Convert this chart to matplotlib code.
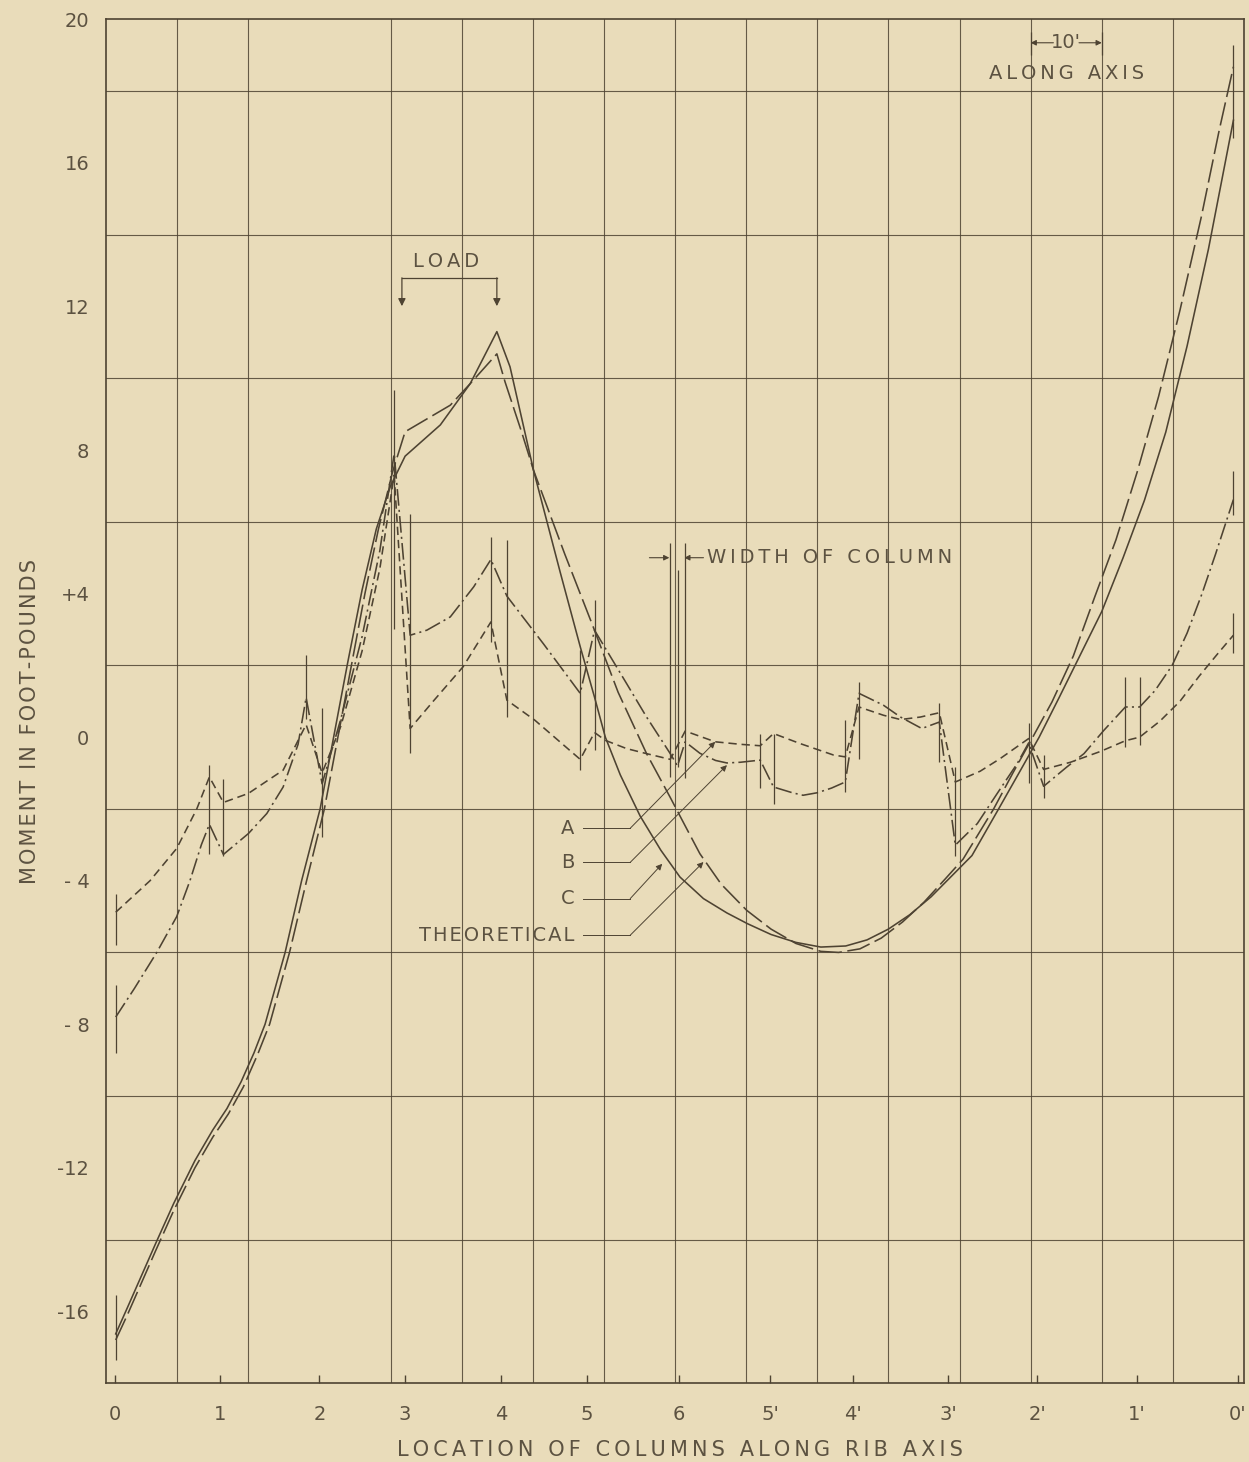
import matplotlib.pyplot as plt

plt.rcParams['lines.scale_dashes'] = False
plt.rcParams['font.family'] = ['DejaVu Sans']

PAPER = '#e9dcba'
INK = '#4e4332'
TXT = '#5c5241'


def spaced(s, gap='\u2009'):
    # lettering on the drawing is wide, so pad the letters out a bit
    return gap.join(s)


# column positions along rib axis (feet) and their labels
col_pos = [1.27, 16.0, 30.0, 42.05, 55.56, 67.65, 80.6, 93.4, 105.06, 118.4, 130.9, 144.9, 159.1]
col_lbl = ['0', '1', '2', '3', '4', '5', '6', "5'", "4'", "3'", "2'", "1'", "0'"]

ytick_val = [20, 16, 12, 8, 4, 0, -4, -8, -12, -16]
ytick_lbl = ['20', '16', '12', '8', '+4', '0', '- 4', '- 8', '-12', '-16']

# curve A (short dash)
a_x = [1.36, 6.19, 9.94, 12.76, 14.53, 16.5, 20.0, 24.9, 28.13, 30.38, 33.0, 36.0, 38.5, 40.51,
       42.76, 46.0, 50.2, 54.11, 56.36, 60.3, 66.67, 68.68, 70.2, 73.2, 76.0, 79.33, 81.43, 85.65,
       89.2, 91.98, 93.85, 97.6, 102.3, 103.94, 105.87, 109.3, 111.7, 114.5, 117.16, 119.41, 122.9,
       125.7, 129.72, 131.83, 135.6, 139.8, 143.32, 145.33, 148.2, 151.0, 153.7, 156.2, 158.51]
a_y = [-4.88, -4.0, -3.1, -2.0, -1.11, -1.82, -1.57, -0.92, 0.35, -1.0, 0.3, 2.4, 4.7, 7.3,
       0.24, 1.0, 1.96, 3.21, 1.03, 0.47, -0.62, 0.13, -0.09, -0.32, -0.46, -0.62, 0.17, -0.13,
       -0.2, -0.24, 0.10, -0.18, -0.5, -0.55, 0.84, 0.61, 0.49, 0.56, 0.68, -1.25, -0.95,
       -0.6, -0.04, -0.9, -0.7, -0.4, -0.1, 0.0, 0.45, 1.0, 1.7, 2.3, 2.84]

# curve B (dash-dot)
b_x = [1.36, 4.0, 7.13, 9.94, 11.8, 13.4, 14.53, 16.5, 20.0, 22.6, 24.9, 27.0, 28.13, 30.38,
       33.0, 36.0, 38.5, 40.51, 42.76, 45.1, 48.4, 51.7, 54.11, 56.36, 61.5, 66.67, 68.68, 73.2,
       76.0, 79.33, 80.35, 81.43, 83.5, 85.7, 87.3, 89.2, 91.98, 93.85, 96.5, 98.0, 100.0, 102.0,
       103.94, 105.87, 109.3, 111.7, 114.7, 117.16, 119.41, 122.5, 125.3, 128.1, 129.72, 131.83,
       135.1, 137.5, 140.3, 143.32, 145.33, 147.5, 149.9, 152.0, 154.1, 156.0, 158.51]
b_y = [-7.8, -7.0, -6.0, -5.0, -4.0, -3.0, -2.43, -3.27, -2.69, -2.13, -1.39, -0.2, 1.1, -1.3,
       0.5, 2.8, 5.2, 7.9, 2.84, 2.98, 3.35, 4.19, 4.95, 3.93, 2.6, 1.22, 2.98, 1.49,
       0.56, -0.46, -0.8, -0.13, -0.45, -0.65, -0.72, -0.7, -0.64, -1.39, -1.55, -1.62, -1.55, -1.42,
       -1.25, 1.22, 0.89, 0.56, 0.24, 0.42, -3.01, -2.41, -1.57, -0.74, -0.16, -1.37,
       -0.83, -0.46, 0.19, 0.84, 0.84, 1.3, 2.0, 2.9, 4.0, 5.1, 6.62]

# curve C (solid)
c_x = [1.36, 3.0, 5.0, 7.0, 9.5, 12.5, 15.0, 17.0, 19.0, 20.8, 22.36, 25.18, 27.5, 30.1, 32.0,
       34.0, 36.0, 38.0, 40.0, 42.05, 47.0, 51.2, 54.95, 56.8, 60.1, 63.85, 66.7, 68.7, 70.2,
       72.3, 75.1, 78.0, 80.7, 84.0, 87.3, 90.2, 93.5, 97.0, 100.5, 104.0, 107.0, 110.0, 113.0,
       116.0, 119.0, 121.75, 125.5, 128.5, 131.2, 134.0, 137.0, 140.0, 143.0, 146.0, 149.0,
       152.0, 155.0, 158.51]
c_y = [-16.63, -15.9, -15.0, -14.1, -13.0, -11.8, -10.95, -10.35, -9.6, -8.8, -8.0, -6.0, -4.0, -2.0, 0.0,
       2.1, 4.1, 5.8, 7.0, 7.83, 8.7, 9.85, 11.3, 10.32, 7.44, 4.6, 2.5, 1.1, 0.0,
       -1.05, -2.2, -3.15, -3.9, -4.5, -4.9, -5.2, -5.5, -5.72, -5.85, -5.82, -5.65, -5.35, -4.95,
       -4.45, -3.85, -3.3, -2.0, -0.95, 0.0, 1.1, 2.3, 3.5, 5.0, 6.6, 8.5,
       10.9, 13.6, 17.19]

# theoretical (long dash)
t_x = [1.36, 3.0, 5.0, 7.0, 9.5, 12.5, 15.0, 17.2, 19.3, 21.3, 23.0, 25.8, 28.2, 30.7, 32.6,
       34.5, 36.4, 38.3, 40.3, 42.05, 48.4, 51.2, 54.95, 56.1, 58.5, 60.1, 64.5, 68.5, 72.0,
       76.0, 79.3, 81.5, 83.5, 86.5, 90.1, 93.5, 97.0, 100.5, 103.0, 106.0, 109.0, 112.0, 115.0,
       118.0, 120.5, 122.5, 124.8, 127.5, 130.3, 133.0, 136.0, 139.0, 142.0, 145.0, 148.0,
       151.0, 154.0, 156.5, 158.51]
t_y = [-16.8, -16.1, -15.2, -14.3, -13.2, -12.0, -11.15, -10.5, -9.75, -8.85, -8.0, -6.0, -4.0, -2.0, 0.0,
       2.0, 4.0, 5.8, 7.4, 8.51, 9.25, 9.85, 10.68, 9.9, 8.46, 7.44, 5.1, 3.07, 1.25,
       -0.46, -1.67, -2.5, -3.25, -4.1, -4.83, -5.35, -5.75, -5.97, -6.0, -5.9, -5.6, -5.15, -4.6,
       -3.95, -3.4, -2.75, -2.0, -1.0, 0.0, 0.98, 2.26, 3.9, 5.5, 7.4, 9.5,
       11.9, 14.5, 16.9, 18.68]

# column faces: x (feet), bottom, top
face_x = [1.36, 1.36, 1.36, 14.53, 16.5, 28.13, 30.38, 40.51, 42.76, 54.11, 56.36, 66.67, 68.68,
          79.33, 80.35, 81.43, 91.98, 93.85, 103.94, 105.87, 117.16, 119.41, 129.72, 131.83,
          143.32, 145.33, 158.51, 158.51, 158.51]
face_lo = [-5.8, -8.81, -17.37, -3.25, -3.32, 0.5, -2.78, 3.0, -0.45, 2.65, 0.56, -0.92, -0.37,
           -1.11, -0.83, -1.15, -1.43, -1.85, -1.53, -0.6, -0.69, -3.3, -1.29, -1.71,
           -0.27, -0.23, 6.19, 2.35, 16.7]
face_hi = [-4.36, -6.92, -15.56, -0.78, -1.18, 2.3, 0.8, 9.67, 6.23, 5.58, 5.49, 2.42, 3.82,
           5.4, 4.65, 5.4, 0.1, 0.1, 0.47, 1.54, 0.94, -0.83, 0.38, -0.5,
           1.68, 1.68, 7.43, 3.47, 19.3]

# leader labels: text, text y, arrow tip
lead_txt = ['A', 'B', 'C', 'THEORETICAL']
lead_y = [-2.54, -3.49, -4.5, -5.52]
lead_tip_x = [85.65, 87.3, 78.2, 84.0]
lead_tip_y = [-0.13, -0.78, -3.53, -3.48]

fig = plt.figure(figsize=(12.49, 14.62), dpi=100, facecolor=PAPER)
ax = fig.add_axes([0.0849, 0.054, 0.9111, 0.9327], facecolor=PAPER)
ax.set_xlim(0, 160)
ax.set_ylim(-18, 20)

# grid
ax.set_xticks(range(10, 160, 10), minor=True)
ax.set_yticks(range(-16, 20, 2), minor=True)
ax.grid(which='minor', color=INK, lw=0.8, alpha=0.85)
ax.tick_params(which='minor', length=0)
ax.set_xticks(col_pos)
ax.set_xticklabels(col_lbl)
ax.set_yticks(ytick_val)
ax.set_yticklabels(ytick_lbl)
ax.tick_params(axis='x', direction='in', length=6, width=1, color=INK, pad=16,
               labelsize=14, labelcolor=TXT)
ax.tick_params(axis='y', length=0, pad=12, labelsize=14, labelcolor=TXT)
for s in ax.spines.values():
    s.set_color(INK)
    s.set_linewidth(1.2)

lw = 1.15
ax.plot(c_x, c_y, color=INK, lw=lw)
ax.plot(t_x, t_y, color=INK, lw=lw, dashes=(17, 4))
ax.plot(a_x, a_y, color=INK, lw=lw, dashes=(6, 3.5))
ax.plot(b_x, b_y, color=INK, lw=lw, dashes=(12, 3, 1.5, 3))
ax.vlines(face_x, face_lo, face_hi, color=INK, lw=0.9)

# leaders for curve labels
for txt, ty, tx2, ty2 in zip(lead_txt, lead_y, lead_tip_x, lead_tip_y):
    ax.text(65.8, ty, spaced(txt, '\u200a'), ha='right', va='center', fontsize=14, color=TXT)
    ax.plot([67.0, 73.7], [ty, ty], color=INK, lw=0.7)
    ax.annotate('', xy=(tx2, ty2), xytext=(73.7, ty),
                arrowprops=dict(arrowstyle='-|>', color=INK, lw=0.7, mutation_scale=9,
                                shrinkA=0, shrinkB=0))

# load bracket
ax.text(47.8, 13.25, spaced('LOAD'), ha='center', va='center', fontsize=14, color=TXT)
ax.plot([41.6, 54.95], [12.8, 12.8], color=INK, lw=0.9)
for lx in [41.6, 54.95]:
    ax.annotate('', xy=(lx, 12.01), xytext=(lx, 12.8),
                arrowprops=dict(arrowstyle='-|>', color=INK, lw=0.9, mutation_scale=11,
                                shrinkA=0, shrinkB=0))

# width of column
ax.text(84.5, 5.0, spaced('WIDTH OF COLUMN'), ha='left', va='center', fontsize=14, color=TXT)
ax.annotate('', xy=(79.2, 5.0), xytext=(76.4, 5.0),
            arrowprops=dict(arrowstyle='-|>', color=INK, lw=0.8, mutation_scale=8, shrinkA=0, shrinkB=0))
ax.annotate('', xy=(81.3, 5.0), xytext=(84.0, 5.0),
            arrowprops=dict(arrowstyle='-|>', color=INK, lw=0.8, mutation_scale=8, shrinkA=0, shrinkB=0))

# scale note
ax.vlines([130, 140], 19.01, 19.66, color=INK, lw=0.9)
ax.text(135, 19.35, "10'", ha='center', va='center', fontsize=14, color=TXT)
ax.annotate('', xy=(130, 19.35), xytext=(133.2, 19.35),
            arrowprops=dict(arrowstyle='-|>', color=INK, lw=0.8, mutation_scale=8, shrinkA=0, shrinkB=0))
ax.annotate('', xy=(140, 19.35), xytext=(136.8, 19.35),
            arrowprops=dict(arrowstyle='-|>', color=INK, lw=0.8, mutation_scale=8, shrinkA=0, shrinkB=0))
ax.text(135.1, 18.48, spaced('ALONG AXIS'), ha='center', va='center', fontsize=14, color=TXT)

fig.text(680 / 1249, 1 - 1450 / 1462, spaced('LOCATION OF COLUMNS ALONG RIB AXIS'),
         ha='center', va='center', fontsize=15, color=TXT)
fig.text(30 / 1249, 1 - 722 / 1462, spaced('MOMENT IN FOOT-POUNDS', '\u200a'), rotation=90,
         ha='center', va='center', fontsize=15, color=TXT)

fig.savefig('out.png', dpi=100, facecolor=PAPER)
